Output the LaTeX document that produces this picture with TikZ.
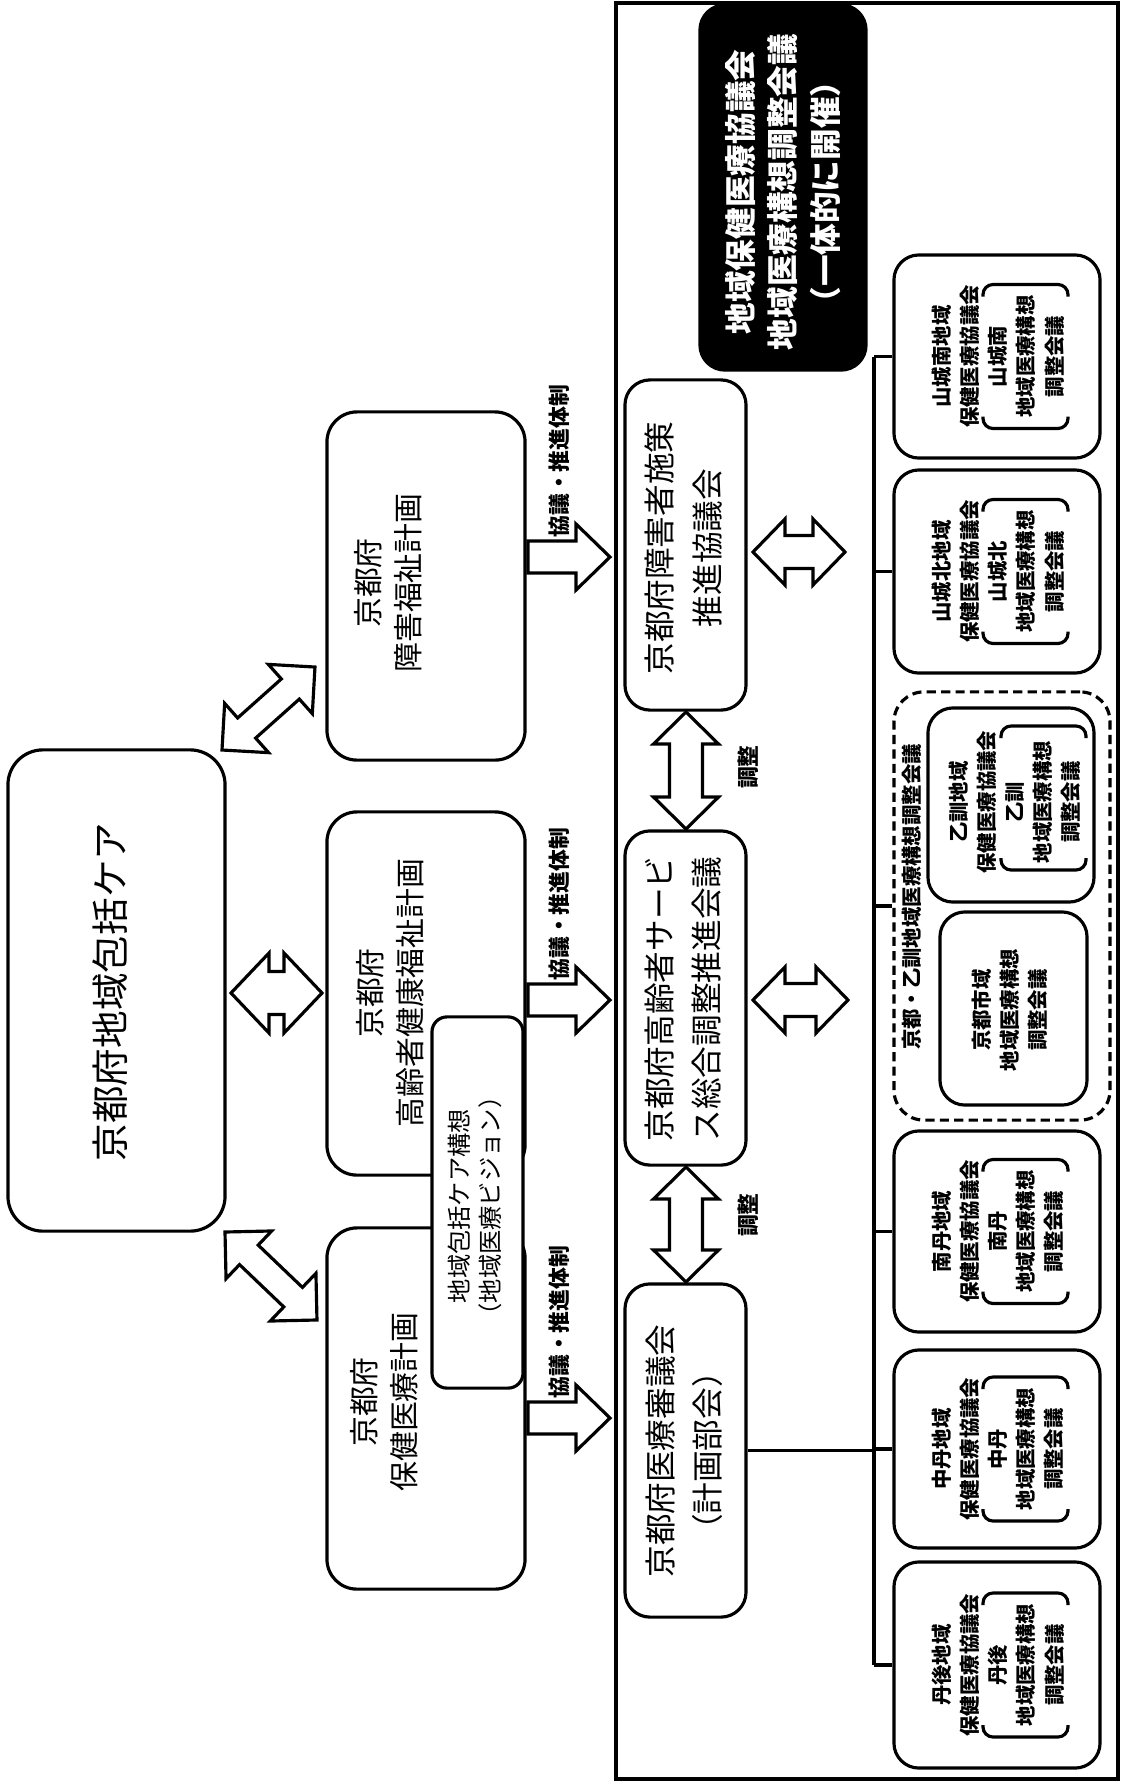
\documentclass[tikz,border=0pt]{standalone}
\usepackage{fontspec}
\setmainfont{Noto Sans CJK JP}
\usetikzlibrary{calc}

\newcommand\ftitle{\fontsize{10.7}{14}\selectfont}
\newcommand\fplan{\fontsize{8.5}{11.4}\selectfont}
\newcommand\fcouncil{\fontsize{9}{13.4}\selectfont}
\newcommand\fblack{\fontsize{9}{12.2}\selectfont\bfseries}
\newcommand\fvision{\fontsize{6.9}{8.6}\selectfont}
\newcommand\flabel{\fontsize{6.2}{7}\selectfont\bfseries}
\newcommand\fregion{\fontsize{5.8}{8}\selectfont\bfseries}

% bracket round the lines of the adjustment meeting: x from, x to, centre y
\newcommand\brk[3]{%
  \draw[rounded corners=0.1cm] (#1,#3-60) -- (#1,#3-72) -- (#2,#3-72) -- (#2,#3-60);
  \draw[rounded corners=0.1cm] (#1,#3+60) -- (#1,#3+72) -- (#2,#3+72) -- (#2,#3+60);}

\tikzset{
  box/.style={draw, rounded corners=0.3cm, inner sep=0pt},
  council/.style={box, rounded corners=0.25cm, minimum width=1.21cm},
  regbox/.style={box, rounded corners=0.25cm, minimum width=2.06cm},
  txt/.style={rotate=90, align=center, inner sep=0pt},
  twoway/.style n args={3}{to path={let \p1=(\tikztostart), \p2=(\tikztotarget),
      \n1={atan2(\y2-\y1,\x2-\x1)}, \n2={veclen(\x2-\x1,\y2-\y1)} in
      [shift={(\p1)}, rotate=\n1]
      (0pt,0pt) -- (#3pt,#2pt) -- (#3pt,#1pt) -- (\n2-#3pt,#1pt)
      -- (\n2-#3pt,#2pt) -- (\n2,0pt) -- (\n2-#3pt,-#2pt)
      -- (\n2-#3pt,-#1pt) -- (#3pt,-#1pt) -- (#3pt,-#2pt) -- cycle}},
  oneway/.style n args={3}{to path={let \p1=(\tikztostart), \p2=(\tikztotarget),
      \n1={atan2(\y2-\y1,\x2-\x1)}, \n2={veclen(\x2-\x1,\y2-\y1)} in
      [shift={(\p1)}, rotate=\n1]
      (0pt,#1pt) -- (\n2-#3pt,#1pt) -- (\n2-#3pt,#2pt) -- (\n2,0pt)
      -- (\n2-#3pt,-#2pt) -- (\n2-#3pt,-#1pt) -- (0pt,-#1pt) -- cycle}},
}

\begin{document}
\begin{tikzpicture}[x=0.01cm,y=-0.01cm,line width=0.9pt]
\useasboundingbox (0,0) rectangle (1125,1784);

% left column: care and the three plans
\node[box, rounded corners=0.35cm, minimum width=2.17cm, minimum height=4.81cm] (care) at (116.5,990.5) {};
\node[txt, font=\ftitle] (caret) at (110,992) {京都府地域包括ケア};

\node[box, minimum width=1.98cm, minimum height=3.48cm] (shogai) at (426,586) {};
\node[txt, font=\fplan] (shogait) at (388,583) {京都府\\障害福祉計画};
\node[box, minimum width=1.98cm, minimum height=3.63cm] (korei) at (426,993.5) {};
\node[txt, font=\fplan] (koreit) at (390,993) {京都府\\高齢者健康福祉計画};
\node[box, minimum width=1.98cm, minimum height=3.61cm] (hoken) at (426,1408.5) {};
\node[txt, font=\fplan] (hokent) at (384,1402) {京都府\\保健医療計画};
\node[box, fill=white, rounded corners=0.15cm, minimum width=0.91cm, minimum height=3.71cm] (vision) at (477.5,1202.5) {};
\node[txt, font=\fvision] (visiont) at (475,1206) {地域包括ケア構想\\（地域医療ビジョン）};

\coordinate (cs1) at (222,750); \coordinate (ce1) at (315,667);
\coordinate (cs2) at (231,993); \coordinate (ce2) at (322,993);
\coordinate (cs3) at (225,1232); \coordinate (ce3) at (317,1320);
\draw[fill=white, twoway={3.84}{9.39}{9.39}] (cs1) to (ce1);
\draw[fill=white, twoway={6.12}{11.38}{10.81}] (cs2) to (ce2);
\draw[fill=white, twoway={3.84}{9.39}{9.39}] (cs3) to (ce3);

% plans to councils
\coordinate (ks1) at (528,557); \coordinate (ke1) at (610,557);
\coordinate (ks2) at (528,1000); \coordinate (ke2) at (610,1000);
\coordinate (ks3) at (528,1418); \coordinate (ke3) at (610,1418);
\draw[oneway={4.55}{9.39}{9.67}] (ks1) to (ke1);
\draw[oneway={4.55}{9.39}{9.67}] (ks2) to (ke2);
\draw[oneway={4.55}{9.39}{9.67}] (ks3) to (ke3);
\node[txt, font=\flabel, anchor=west] (kl1) at (559,539) {協議・推進体制};
\node[txt, font=\flabel, anchor=west] (kl2) at (559,982) {協議・推進体制};
\node[txt, font=\flabel, anchor=west] (kl3) at (559,1400) {協議・推進体制};

% right frame
\draw[line width=1pt] (616,3) rectangle (1118,1779);

\node[council, minimum height=3.30cm] (shisaku) at (685.5,545) {};
\node[txt, font=\fcouncil] (shisakut) at (683.5,548) {京都府障害者施策\\推進協議会};
\node[council, minimum height=3.34cm] (koreikai) at (685.5,998) {};
\node[txt, font=\fcouncil] (koreikait) at (683.5,999) {京都府高齢者サービ\\ス総合調整推進会議};
\node[council, minimum height=3.33cm] (shingi) at (685.5,1450.5) {};
\node[txt, font=\fcouncil] (shingit) at (684,1451) {京都府医療審議会\\（計画部会）};

\coordinate (ts1) at (686,712); \coordinate (te1) at (686,829);
\coordinate (ts2) at (686,1167); \coordinate (te2) at (686,1282);
\draw[twoway={4.69}{9.25}{9.1}] (ts1) to (te1);
\draw[twoway={4.69}{9.25}{9.1}] (ts2) to (te2);
\node[txt, font=\flabel] (tl1) at (748,767) {調整};
\node[txt, font=\flabel] (tl2) at (748,1215) {調整};

\coordinate (hs1) at (753,552); \coordinate (he1) at (845,552);
\coordinate (hs2) at (753,1000); \coordinate (he2) at (848,1000);
\draw[twoway={4.69}{9.39}{9.1}] (hs1) to (he1);
\draw[twoway={4.69}{9.39}{9.1}] (hs2) to (he2);

\node[box, fill=black, rounded corners=0.25cm, minimum width=1.66cm, minimum height=3.65cm] (chiiki) at (783,187.5) {};
\node[txt, font=\fblack, text=white] (chiikit) at (783,192) {地域保健医療協議会\\地域医療構想調整会議\\（一体的に開催）};

% regional meetings
\node[regbox, minimum height=2.03cm] (ysouth) at (997,356.5) {};
\node[txt, font=\fregion] (ysoutht) at (998,356.5) {山城南地域\\保健医療協議会\\山城南\\地域医療構想\\調整会議};
\brk{983}{1068}{356.5}
\node[regbox, minimum height=2.03cm] (ynorth) at (997,571.5) {};
\node[txt, font=\fregion] (ynortht) at (998,571.5) {山城北地域\\保健医療協議会\\山城北\\地域医療構想\\調整会議};
\brk{983}{1068}{571.5}

\node[box, dashed, dash pattern=on 2.6pt off 1.5pt, minimum width=2.16cm, minimum height=4.28cm] (kyoto) at (1002,906) {};
\node[txt, font=\fregion] (kyotot) at (912,897) {京都・乙訓地域医療構想調整会議};
\node[box, rounded corners=0.25cm, minimum width=1.66cm, minimum height=1.94cm] (otokuni) at (1011,805) {};
\node[txt, font=\fregion] (otokunit) at (1015,802) {乙訓地域\\保健医療協議会\\乙訓\\地域医療構想\\調整会議};
\brk{1001}{1086}{798}
\node[box, rounded corners=0.25cm, minimum width=1.47cm, minimum height=1.93cm] (kshi) at (1013.5,1008.5) {};
\node[txt, font=\fregion] (kshit) at (1010,1010) {京都市域\\地域医療構想\\調整会議};

\node[regbox, minimum height=2.01cm] (nantan) at (997,1231.5) {};
\node[txt, font=\fregion] (nantant) at (998,1231.5) {南丹地域\\保健医療協議会\\南丹\\地域医療構想\\調整会議};
\brk{983}{1068}{1231.5}
\node[regbox, minimum height=1.98cm] (chutan) at (997,1449) {};
\node[txt, font=\fregion] (chutant) at (998,1449) {中丹地域\\保健医療協議会\\中丹\\地域医療構想\\調整会議};
\brk{983}{1068}{1449}
\node[regbox, minimum height=2.06cm] (tango) at (997,1665) {};
\node[txt, font=\fregion] (tangot) at (998,1665) {丹後地域\\保健医療協議会\\丹後\\地域医療構想\\調整会議};
\brk{983}{1068}{1665}

% bus to the regions
\coordinate (bustop) at (874,356.5);
\coordinate (busbot) at (874,1665);
\draw (bustop) -- (busbot);
\draw (bustop) -- (ysouth.west);
\draw (bustop |- ynorth.west) -- (ynorth.west);
\draw (bustop |- kyoto.west) -- (kyoto.west);
\draw (bustop |- nantan.west) -- (nantan.west);
\draw (bustop |- chutan.west) -- (chutan.west);
\draw (busbot) -- (tango.west);
\draw (shingi.east) -- (bustop |- shingi.east);
\end{tikzpicture}
\end{document}
